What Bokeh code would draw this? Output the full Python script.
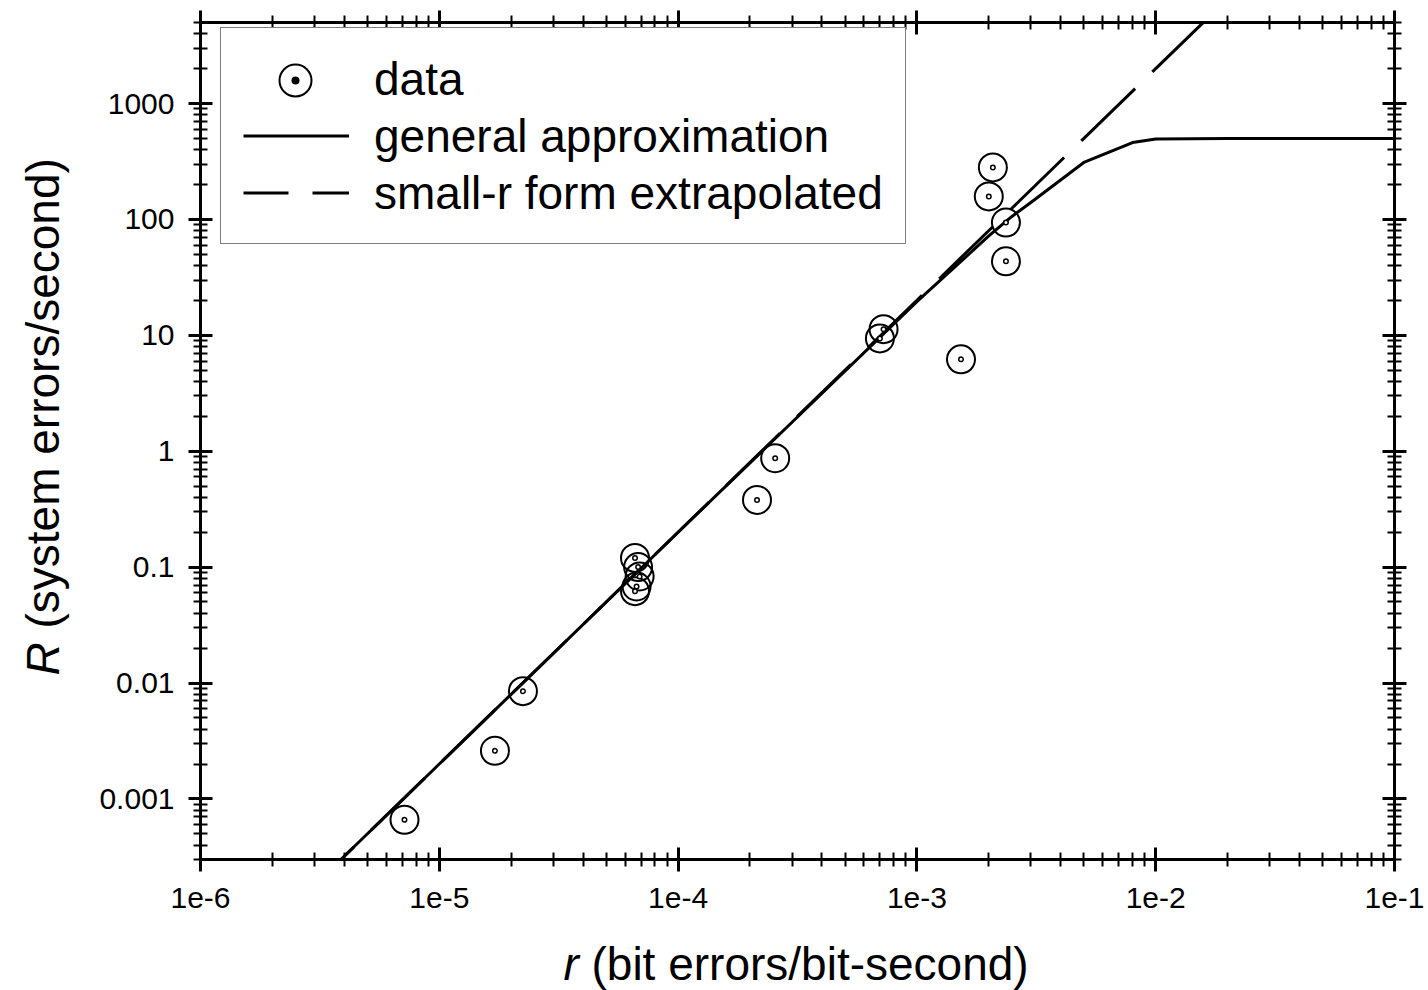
import math
from bokeh.plotting import figure
from bokeh.layouts import column, row
from bokeh.models import (Range1d, LogAxis, FixedTicker, CustomJSTickFormatter,
                          Legend, LegendItem, Label)
from bokeh.embed import file_html
from bokeh.resources import INLINE

# ---------------- data ----------------
data_r = [7.15e-6, 1.71e-5, 2.24e-5, 6.6e-5, 6.8e-5, 6.9e-5, 6.7e-5, 6.6e-5,
          2.14e-4, 2.55e-4, 7.0e-4, 7.25e-4, 1.53e-3, 2.0e-3, 2.08e-3, 2.36e-3, 2.36e-3]
data_R = [6.6e-4, 2.6e-3, 8.5e-3, 0.12, 0.10, 0.083, 0.068, 0.062,
          0.38, 0.87, 9.4, 11.3, 6.2, 158, 281, 94, 43.5]

general_r = [4.0e-6, 1e-5, 1e-4, 1e-3, 2e-3, 2.5e-3, 3e-3, 5e-3, 8e-3, 1e-2, 2e-2, 1e-1]
general_R = [3.2e-4, 2.0e-3, 0.2, 19.5, 72, 106, 140, 310, 460, 495, 500, 500]

smallr_r = [3.21e-6, 1.6e-2]
smallr_R = [2.06e-4, 5120.0]

x_ticks = [1e-6, 1e-5, 1e-4, 1e-3, 1e-2, 1e-1]
x_tick_labels = ["1e-6", "1e-5", "1e-4", "1e-3", "1e-2", "1e-1"]
y_ticks = [1e-3, 1e-2, 1e-1, 1, 10, 100, 1000]
y_tick_labels = ["0.001", "0.01", "0.1", "1", "10", "100", "1000"]

legend_labels = ["data", "general approximation", "small-r form extrapolated"]
x_title = ["r", "(bit errors/bit-second)"]
y_title = ["R", "(system errors/second)"]

FONT = "Liberation Sans"

x_minor = [m * 10.0 ** e for e in range(-6, -1) for m in range(2, 10)]
y_minor = [m * 10.0 ** e for e in range(-4, 4) for m in range(2, 10)
           if 3e-4 <= m * 10.0 ** e <= 5000]

p = figure(width=1348, height=930, x_axis_type="log", y_axis_type="log",
           x_range=Range1d(1e-6, 1e-1), y_range=Range1d(3e-4, 5000),
           output_backend="svg", toolbar_location=None,
           min_border_left=120, min_border_right=34,
           min_border_top=22, min_border_bottom=71)
p.outline_line_color = None
p.xgrid.visible = False
p.ygrid.visible = False
p.background_fill_color = "white"
p.border_fill_color = "white"

fmt_code = """
let best = -1, bd = 1e9;
for (let i = 0; i < tvals.length; i++) {
  const d = Math.abs(Math.log10(tvals[i]) - Math.log10(tick));
  if (d < bd) { bd = d; best = i; }
}
return (best >= 0 && bd < 1e-6) ? tlabels[best] : "";
"""

xt = FixedTicker(ticks=x_ticks, minor_ticks=x_minor)
yt = FixedTicker(ticks=y_ticks, minor_ticks=y_minor)


def style(ax):
    ax.axis_line_width = 3
    ax.axis_line_color = "black"
    ax.major_tick_line_width = 3
    ax.minor_tick_line_width = 2
    ax.major_tick_line_color = "black"
    ax.minor_tick_line_color = "black"
    ax.major_tick_in = 12
    ax.major_tick_out = 12
    ax.minor_tick_in = 7
    ax.minor_tick_out = 7
    ax.major_label_text_font = FONT
    ax.major_label_text_color = "black"


xa = p.xaxis[0]
xa.ticker = xt
xa.formatter = CustomJSTickFormatter(args=dict(tvals=x_ticks, tlabels=x_tick_labels), code=fmt_code)
style(xa)
xa.major_label_text_font_size = "30px"
xa.major_label_standoff = 16

ya = p.yaxis[0]
ya.ticker = yt
ya.formatter = CustomJSTickFormatter(args=dict(tvals=y_ticks, tlabels=y_tick_labels), code=fmt_code)
style(ya)
ya.major_label_text_font_size = "30px"
ya.major_label_standoff = 14
ya.major_label_orientation = "horizontal"

top = LogAxis(ticker=xt)
style(top)
top.major_label_text_font_size = "1px"
top.major_label_text_alpha = 0
top.major_label_standoff = 0
p.add_layout(top, "above")

right = LogAxis(ticker=yt)
style(right)
right.major_label_text_font_size = "1px"
right.major_label_text_alpha = 0
right.major_label_standoff = 0
p.add_layout(right, "right")

# ---------------- glyphs ----------------
solid = p.line(general_r, general_R, line_width=3, line_color="black")
dashed = p.line(smallr_r, smallr_R, line_width=3, line_color="black",
                line_dash="75 24", line_dash_offset=30)
p.scatter(data_r, data_R, marker="circle", size=28, fill_color=None,
          line_color="black", line_width=2)
p.scatter(data_r, data_R, marker="circle", size=4.5, fill_color="white",
          line_color="black", line_width=1.5)

# legend proxies (kept outside the visible range)
proxy_hidden = p.scatter(x=[data_r[0]], y=[1e-9], marker="circle", fill_color=None,
                         line_color="black", line_alpha=0)
proxy_marker = p.scatter(x=[data_r[0]], y=[1e-9], marker="circle_dot", fill_color=None,
                         line_color="black", line_width=2)

legend = Legend(items=[LegendItem(label=legend_labels[0], renderers=[proxy_hidden]),
                       LegendItem(label=legend_labels[1], renderers=[solid]),
                       LegendItem(label=legend_labels[2], renderers=[dashed])],
                location=(20, 615), glyph_width=106, glyph_height=57, label_height=20,
                spacing=0, padding=22, label_standoff=25, margin=0,
                label_text_font=FONT, label_text_font_size="46px",
                label_text_color="black",
                border_line_color="black", border_line_width=1.5,
                background_fill_color="white", background_fill_alpha=1.0)
p.add_layout(legend)

legend_mark = Legend(items=[LegendItem(label=" ", renderers=[proxy_marker])],
                     location=(42, 739), glyph_width=106, glyph_height=80, label_height=1,
                     spacing=0, padding=0, label_standoff=0, margin=0,
                     label_text_font_size="1px", label_text_alpha=0,
                     border_line_color=None, background_fill_alpha=0)
p.add_layout(legend_mark)

# ---------------- axis titles (separate strips so they are not clipped) ----------------
common = dict(x_units="screen", y_units="screen", text_font=FONT,
              text_font_size="46px", text_color="black", text_baseline="alphabetic",
              text_align="left")


def strip(w, h):
    f = figure(width=w, height=h, x_range=Range1d(0, 1), y_range=Range1d(0, 1),
               output_backend="svg", toolbar_location=None,
               x_axis_location=None, y_axis_location=None, min_border=0)
    f.outline_line_color = None
    f.xgrid.visible = False
    f.ygrid.visible = False
    f.background_fill_color = "white"
    f.border_fill_color = "white"
    return f


ylab = strip(80, 930)
ylab.add_layout(Label(x=42, y=184, angle=math.pi / 2, text=y_title[0],
                      text_font_style="italic", **common))
ylab.add_layout(Label(x=42, y=231, angle=math.pi / 2, text=y_title[1], **common))

xlab = strip(1428, 60)
xlab.add_layout(Label(x=563, y=27, text=x_title[0], text_font_style="italic", **common))
xlab.add_layout(Label(x=591, y=27, text=x_title[1], **common))

layout = column(row(ylab, p), xlab)

open("out.html", "w").write(file_html(layout, INLINE))
